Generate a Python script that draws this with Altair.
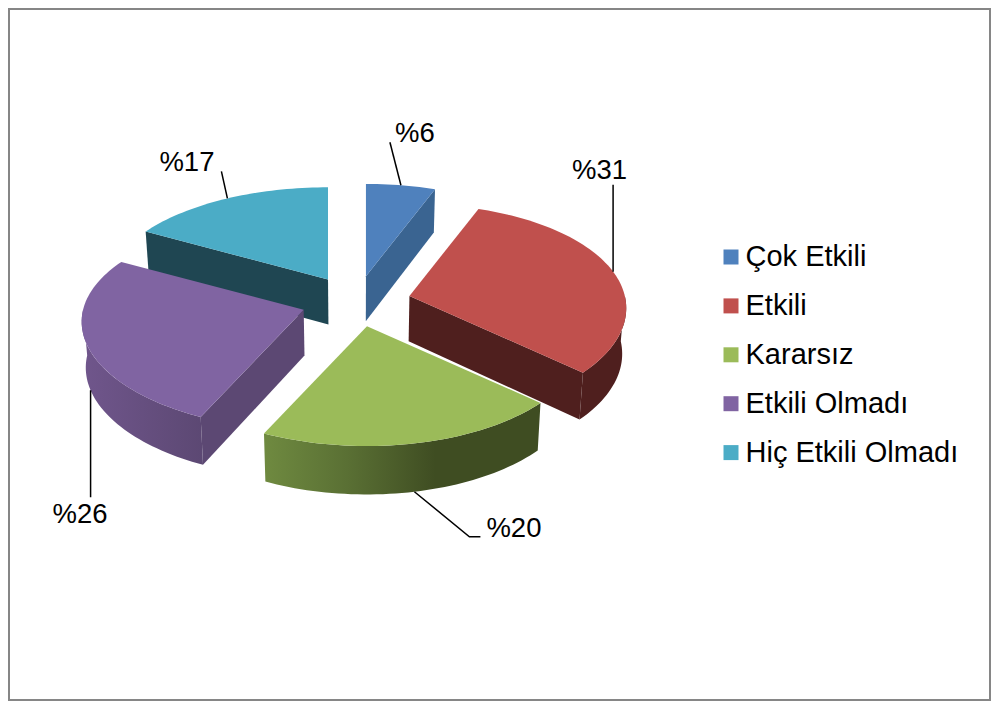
import math
import altair as alt
import pandas as pd

# ---- chart values ----
categories = ["Çok Etkili", "Etkili", "Kararsız", "Etkili Olmadı", "Hiç Etkili Olmadı"]
values = [5.8, 30.8, 20.4, 26, 17]
labels = ["%6", "%31", "%20", "%26", "%17"]
top_colors = ["#4f81bd", "#c0504d", "#9bbb59", "#8064a2", "#4bacc6"]
face_colors = ["#3a6491", "#4f1f1e", "#3f4d22", "#5c4873", "#1f4652"]
wall_stops = [
    [(0, "#3a6491"), (1, "#3a6491")],
    [(0, "#4f1f1e"), (1, "#4f1f1e")],
    [(0, "#6f8a40"), (0.3, "#5a7034"), (0.62, "#3f4d22"), (1, "#3f4d22")],
    [(0, "#70568c"), (1, "#5c4873")],
    [(0, "#1f4652"), (1, "#1f4652")],
]
paint_order = [4, 0, 1, 3, 2]

# ---- drawing set-up: page pixels are used as the scale's units ----
W, H = 983, 693
CX, CY = 356.0, 302.0
RX, RY = 218.0, 106.0
KX, KY = 0.115, 0.13
SKEW = 0.012
EX, EY = 55.0, 25.5
# leader path, relative to where it leaves the pie, and label start relative to path end
leader_paths = [[(-11, -43)], [(0, -87)], [(55, 45), (66, 45)], [(0, 107)], [(-6, -27)]]
label_offsets = [(5, 0), (-41, -6), (6, 0), (-38, 26), (-62, 0)]


def project(theta, apex):
    u, v = math.sin(theta), -math.cos(theta)
    return (
        apex[0] + RX * u * (1 + KX * v) * (1 - SKEW * u),
        apex[1] + RY * v * (1 + KY * v),
    )


def lower(p):
    return p[0] - 0.015 * (p[0] - CX), p[1] + 45.5 + 0.02 * (p[1] - 300)


def arc_pts(a, b, apex):
    n = max(2, int(abs(b - a) / math.radians(1.5)))
    return [project(a + (b - a) * i / n, apex) for i in range(n + 1)]


scale_x = alt.Scale(domain=[8, 8 + W], range=[0, W], nice=False, zero=False)
scale_y = alt.Scale(domain=[8, 8 + H], range=[0, H], nice=False, zero=False)
X = alt.X("x:Q", scale=scale_x, axis=None)
Y = alt.Y("y:Q", scale=scale_y, axis=None)


def frame(points, **extra):
    return pd.DataFrame(
        [{"x": p[0], "y": p[1], "i": i, **extra} for i, p in enumerate(points)]
    )


def poly(points, fill):
    return alt.Chart(frame(points)).mark_line(
        interpolate="linear-closed", fill=fill, strokeWidth=0, stroke="transparent"
    ).encode(x=X, y=Y, order="i:Q")


def gradient(stops):
    return alt.Gradient(
        gradient="linear",
        x1=0, x2=1, y1=0, y2=0,
        stops=[alt.GradientStop(offset=o, color=c) for o, c in stops],
    )


total = sum(values)
angles, running = [], 0
for val in values:
    angles.append((running / total * 2 * math.pi, (running + val) / total * 2 * math.pi))
    running += val

layers = []
# outer frame
fx0, fy0, fx1, fy1 = 9, 9, 990, 700
layers.append(
    alt.Chart(frame([(fx0, fy0), (fx1, fy0), (fx1, fy1), (fx0, fy1)])).mark_line(
        interpolate="linear-closed", stroke="#868686", strokeWidth=2
    ).encode(x=X, y=Y, order="i:Q")
)

anchors = {}
for k in paint_order:
    a, b = angles[k]
    mid = (a + b) / 2
    su, sv = math.sin(mid), -math.cos(mid)
    apex = (CX + EX * su, CY + EY * sv * (1 - 0.03 * sv))

    # outer wall: only the part of the rim that faces the viewer
    wa, wb = max(a, math.pi / 2), min(b, 3 * math.pi / 2)
    if wa < wb:
        rim = arc_pts(wa, wb, apex)
        layers.append(poly(rim + [lower(p) for p in reversed(rim)], gradient(wall_stops[k])))

    # cut faces that face the viewer
    for edge, facing in ((b, math.sin(b)), (a, -math.sin(a))):
        if facing > 0.01:
            p = project(edge, apex)
            layers.append(poly([apex, p, lower(p), lower(apex)], face_colors[k]))

    # top face, carrying the legend
    top = [apex] + arc_pts(a, b, apex)
    layers.append(
        alt.Chart(frame(top, cat=categories[k])).mark_line(
            interpolate="linear-closed", strokeWidth=0, stroke="transparent"
        ).encode(
            x=X, y=Y, order="i:Q",
            fill=alt.Fill(
                "cat:N",
                scale=alt.Scale(domain=categories, range=top_colors),
                legend=alt.Legend(
                    orient="none", legendX=708.5, legendY=234.5, title=None,
                    symbolType="square", symbolSize=225, symbolStrokeWidth=0,
                    symbolOpacity=1, labelFont="Liberation Sans", labelFontSize=29,
                    labelColor="#000000", labelLimit=400, labelOffset=0,
                    rowPadding=18.9, symbolOffset=0,
                ),
            ),
        )
    )

    # leader start: on the rim at mid-angle, on the wall's lower edge when on the wall
    start = project(mid, apex)
    if math.pi / 2 < mid < 3 * math.pi / 2:
        start = lower(start)
    anchors[k] = start

for k in range(len(values)):
    path = [anchors[k]] + [(anchors[k][0] + dx, anchors[k][1] + dy) for dx, dy in leader_paths[k]]
    layers.append(
        alt.Chart(frame(path)).mark_line(color="#000000", strokeWidth=1.5).encode(
            x=X, y=Y, order="i:Q"
        )
    )
    ex, ey = path[-1]
    lx, ly = ex + label_offsets[k][0], ey + label_offsets[k][1]
    layers.append(
        alt.Chart(pd.DataFrame({"x": [lx], "y": [ly], "t": [labels[k]]})).mark_text(
            align="left", baseline="alphabetic", font="Liberation Sans", fontSize=27.5,
            color="#000000",
        ).encode(x=X, y=Y, text="t:N")
    )

chart = (
    alt.layer(*layers)
    .resolve_scale(fill="shared")
    .properties(width=W, height=H, padding=0, background="white",
                autosize=alt.AutoSizeParams(type="none"))
    .configure_view(strokeWidth=0)
)
chart.save("out.html", embed_options={"renderer": "svg", "actions": False})
